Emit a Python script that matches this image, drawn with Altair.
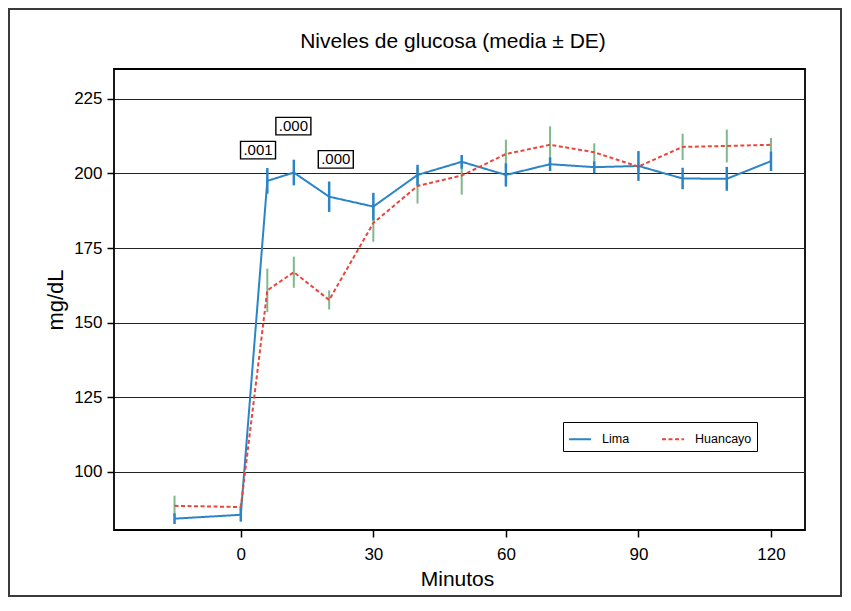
import altair as alt
import pandas as pd

# ---- data ----
minutos = [-15, 0, 6, 12, 20, 30, 40, 50, 60, 70, 80, 90, 100, 110, 120]
lima_media = [84.3, 85.6, 197.5, 200.3, 192.2, 188.9, 199.5, 203.9, 199.5, 203.1, 202.1, 202.5, 198.3, 198.2, 204.1]
lima_de = [1.8, 2.3, 4.3, 4.3, 5.1, 4.6, 3.4, 2.3, 3.9, 2.3, 2.0, 5.0, 3.6, 4.0, 3.3]
huan_media = [88.6, 88.2, 160.8, 166.9, 157.6, 183.4, 195.8, 199.3, 206.5, 209.6, 207.1, 202.3, 208.9, 209.2, 209.6]
huan_de = [3.4, 1.5, 7.3, 5.2, 3.2, 6.3, 5.9, 6.4, 4.8, 6.2, 3.0, 1.5, 4.4, 5.5, 2.3]
series = ["Lima", "Huancayo"]

ann_text = [".001", ".000", ".000"]
ann_x = [3.9, 11.9, 21.5]
ann_y = [207.8, 215.85, 204.7]

title_text = "Niveles de glucosa (media \u00b1 DE)"
y_ticks = [100, 125, 150, 175, 200, 225]
x_ticks = [0, 30, 60, 90, 120]

FONT = "Liberation Sans"
BLUE = "#2a84c6"
RED = "#e8473d"
GREEN = "#7db98b"

rows = []
for s, med, de in [("Lima", lima_media, lima_de), ("Huancayo", huan_media, huan_de)]:
    for t, m, d in zip(minutos, med, de):
        rows.append({"serie": s, "min": t, "media": m, "lo": m - d, "hi": m + d})
df = pd.DataFrame(rows)
ann = pd.DataFrame({"txt": ann_text, "x": ann_x, "y": ann_y})

W, H = 691, 461
xs = alt.Scale(domain=[-28.7, 127.7], nice=False, zero=False)
ys = alt.Scale(domain=[80.5, 235], nice=False, zero=False)

x_axis = alt.Axis(values=x_ticks, grid=False, domain=False, tickSize=7, tickWidth=1.5,
                  tickColor="black", labelFontSize=17, labelPadding=9, labelColor="black",
                  title="Minutos", titleFontSize=21, titleFontWeight="normal", titleColor="black",
                  titleX=343, titleY=49, titleBaseline="middle", titleAnchor="start", titleAlign="center")
y_axis = alt.Axis(values=y_ticks, grid=True, gridColor="#222222", gridWidth=1.2, domain=False,
                  tickSize=7, tickWidth=1.5, tickColor="black", labelFontSize=17, labelPadding=5,
                  labelColor="black", title="mg/dL", titleFontSize=22, titleFontWeight="normal",
                  titleColor="black", titleX=-59, titleY=H / 2, titleAngle=-90,
                  titleBaseline="middle", titleAlign="center", titleAnchor="start")

base = alt.Chart(df)

green_bars = base.transform_filter(alt.datum.serie == "Huancayo").mark_rule(
    color=GREEN, strokeWidth=2).encode(
    x=alt.X("min:Q", scale=xs, axis=x_axis),
    y=alt.Y("lo:Q", scale=ys, axis=y_axis),
    y2="hi:Q")

lines = base.mark_line(strokeWidth=2).encode(
    x=alt.X("min:Q", scale=xs),
    y=alt.Y("media:Q", scale=ys),
    color=alt.Color("serie:N", scale=alt.Scale(domain=series, range=[BLUE, RED]),
                    legend=alt.Legend(title=None)),
    strokeDash=alt.StrokeDash("serie:N", scale=alt.Scale(domain=series, range=[[1, 0], [4, 2.5]]),
                              legend=alt.Legend(title=None)),
    order=alt.Order("min:Q"))

blue_bars = base.transform_filter(alt.datum.serie == "Lima").mark_rule(
    color=BLUE, strokeWidth=2.5).encode(
    x=alt.X("min:Q", scale=xs),
    y=alt.Y("lo:Q", scale=ys),
    y2="hi:Q")

boxes = alt.Chart(ann).mark_point(
    shape="M-1,-0.5L1,-0.5L1,0.5L-1,0.5Z", size=1225, filled=False,
    stroke="black", strokeWidth=1.4, fill="white", fillOpacity=1, opacity=1).encode(
    x=alt.X("x:Q", scale=xs), y=alt.Y("y:Q", scale=ys))

texts = alt.Chart(ann).mark_text(font=FONT, fontSize=15, color="black",
                                 baseline="middle", align="center").encode(
    x=alt.X("x:Q", scale=xs), y=alt.Y("y:Q", scale=ys), text="txt:N")

one = pd.DataFrame({"t": [title_text]})
title_mark = alt.Chart(one).mark_text(font=FONT, fontSize=21, color="black",
                                      baseline="middle", align="center").encode(
    x=alt.value(W / 2 - 6.5), y=alt.value(-27), text="t:N")

frame = alt.Chart(one).mark_rect(
    fill="white", fillOpacity=0, stroke="#3a3a3a", strokeWidth=2).encode(
    x=alt.value(-105), x2=alt.value(W + 36), y=alt.value(-60), y2=alt.value(H + 66))

chart = alt.layer(frame, green_bars, lines, blue_bars, boxes, texts, title_mark).properties(
    width=W, height=H,
    autosize=alt.AutoSizeParams(type="none"),
    padding={"left": 106, "top": 61, "right": 38, "bottom": 67},
).configure(
    font=FONT,
).configure_view(
    stroke="black", strokeWidth=1.8,
).configure_legend(
    orient="none", legendX=449, legendY=353, direction="horizontal",
    strokeColor="black", fillColor="white", padding=5, symbolType="stroke",
    symbolSize=484, symbolStrokeWidth=2, labelFontSize=12.5, labelColor="black",
    labelFont=FONT, labelOffset=10, columnPadding=28, cornerRadius=0,
)

chart.save("out.html", embed_options={"renderer": "svg", "actions": False})
